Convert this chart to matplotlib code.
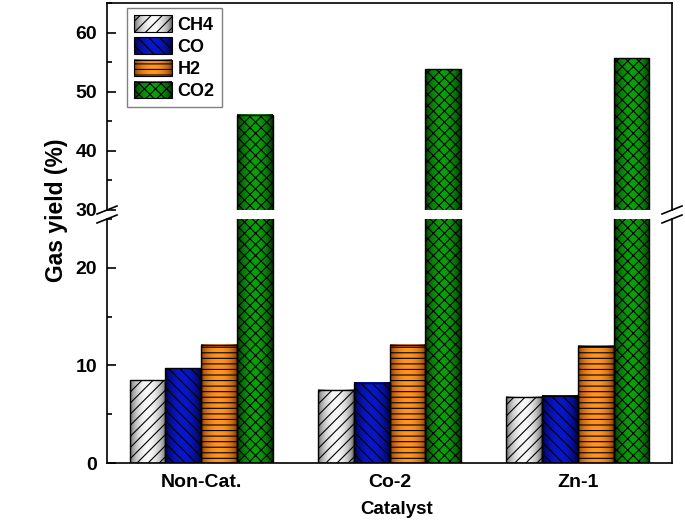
import numpy as np
import matplotlib
matplotlib.use('Agg')
import matplotlib.pyplot as plt
from matplotlib.colors import LinearSegmentedColormap
from matplotlib.patches import Rectangle
from matplotlib.legend_handler import HandlerBase
from matplotlib.image import BboxImage
from matplotlib.transforms import Bbox, TransformedBbox
from matplotlib.ticker import MultipleLocator

plt.rcParams['font.family'] = ['Liberation Sans', 'DejaVu Sans']
plt.rcParams['font.weight'] = 'bold'
plt.rcParams['hatch.linewidth'] = 0.8

# data
catalysts = ['Non-Cat.', 'Co-2', 'Zn-1']
gases = ['CH4', 'CO', 'H2', 'CO2']
ch4 = [8.5, 7.5, 6.8]
co = [9.7, 8.2, 6.9]
h2 = [12.1, 12.1, 12.0]
co2 = [46.1, 53.8, 55.7]
series = [ch4, co, h2, co2]

# styles: (edge colour, centre colour, hatch)
styles = [('#5a5a5a', '#f8f8f8', '///'),
          ('#000030', '#0818c8', '\\\\\\'),
          ('#7a3000', '#ff9420', '---'),
          ('#002200', '#0aa00a', 'xxx')]
cmaps = [LinearSegmentedColormap.from_list('g%d' % i, [s[0], s[1]]) for i, s in enumerate(styles)]

t = np.linspace(0, 1, 64)
grad = (np.sin(np.pi * t) ** 0.6)[None, :]

fig = plt.figure(figsize=(6.85, 5.22), dpi=100)
W, H = 685, 522
x0, x1 = 107, 672
ax_top = fig.add_axes([x0 / W, (H - 210) / H, (x1 - x0) / W, (210 - 3) / H])
ax_bot = fig.add_axes([x0 / W, (H - 463) / H, (x1 - x0) / W, (463 - 219) / H])

x = np.arange(len(catalysts)) + 1
width = 0.19
offsets = (np.arange(len(gases)) - 1.5) * width

for ax in (ax_top, ax_bot):
    for i, vals in enumerate(series):
        bars = ax.bar(x + offsets[i], vals, width, facecolor='none', edgecolor='black',
                      hatch=styles[i][2], linewidth=1.0, zorder=3)
        for b in bars:
            ax.imshow(grad, cmap=cmaps[i], vmin=0, vmax=1, aspect='auto', interpolation='bicubic',
                      extent=[b.get_x(), b.get_x() + b.get_width(), b.get_y(), b.get_y() + b.get_height()],
                      zorder=2)
    ax.set_xlim(0.5, 3.5)
    for s in ax.spines.values():
        s.set_linewidth(1.2)
    ax.tick_params(axis='y', which='major', direction='in', length=6.5, width=1.2, labelsize=14, pad=7)
    ax.tick_params(axis='y', which='minor', direction='in', length=3.5, width=1.2)
    ax.tick_params(axis='x', length=0)
    ax.yaxis.set_minor_locator(MultipleLocator(5))

ax_top.set_ylim(30, 65)
ax_top.set_yticks([30, 40, 50, 60])
ax_top.spines['bottom'].set_visible(False)
ax_top.set_xticks([])

ax_bot.set_ylim(0, 25)
ax_bot.set_yticks([0, 10, 20])
ax_bot.spines['top'].set_visible(False)
ax_bot.set_xticks(x)
ax_bot.set_xticklabels(catalysts, fontsize=14, fontweight='bold')
ax_bot.tick_params(axis='x', pad=8)
ax_bot.set_xlabel('Catalyst', fontsize=13.5, fontweight='bold', va='center')
ax_bot.xaxis.set_label_coords((397 - x0) / (x1 - x0), (463 - 510) / 244)

# break marks
dx = 10 / (x1 - x0)
for ax, hgt in ((ax_top, 207), (ax_bot, 244)):
    dy = 4 / hgt
    y0 = 0 if ax is ax_top else 1
    for xc in (0, 1):
        ax.plot([xc - dx, xc + dx], [y0 - dy, y0 + dy], transform=ax.transAxes,
                color='black', lw=1.2, clip_on=False)

fig.text(57 / W, 1 - 210 / H, 'Gas yield (%)', rotation=90, ha='center', va='center',
         fontsize=16.5, fontweight='bold')


class GradHandler(HandlerBase):
    def __init__(self, cmap, hatch):
        super().__init__()
        self.cmap = cmap
        self.hatch = hatch

    def create_artists(self, legend, orig_handle, xdescent, ydescent, width, height, fontsize, trans):
        bb = TransformedBbox(Bbox.from_bounds(-xdescent, -ydescent, width, height), trans)
        img = BboxImage(bb, cmap=self.cmap, norm=plt.Normalize(0, 1), interpolation='bicubic')
        img.set_data(grad)
        rect = Rectangle((-xdescent, -ydescent), width, height, facecolor='none',
                         edgecolor='black', hatch=self.hatch, lw=0.8, transform=trans)
        return [img, rect]


handles = [Rectangle((0, 0), 1, 1) for _ in gases]
hmap = {h: GradHandler(cmaps[i], styles[i][2]) for i, h in enumerate(handles)}
leg = ax_top.legend(handles, gases, handler_map=hmap, loc='upper left',
                    bbox_to_anchor=((127 - x0) / (x1 - x0), 1 - 5 / 207), borderaxespad=0,
                    prop={'size': 13, 'weight': 'bold'}, handlelength=2.1, handleheight=1.05,
                    labelspacing=0.2, handletextpad=0.3, borderpad=0.4, fancybox=False,
                    edgecolor='#808080', framealpha=1)
leg.get_frame().set_linewidth(1.0)

fig.savefig('out.png', dpi=100)
